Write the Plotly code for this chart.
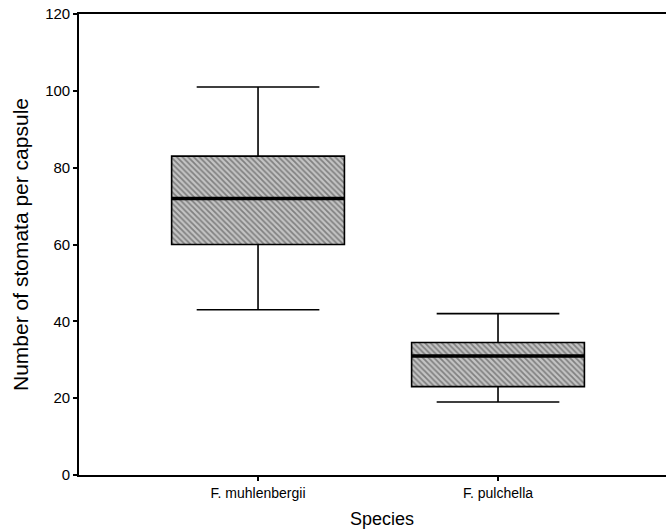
import plotly.graph_objects as go

species = ["F. muhlenbergii", "F. pulchella"]
lower_whisker = [43, 19]
q1 = [60, 23]
median = [72, 31]
q3 = [83, 34.5]
upper_whisker = [101, 42]

y_ticks = [0, 20, 40, 60, 80, 100, 120]

box_w = 0.72

fig = go.Figure()

# hatched box fill
fig.add_trace(go.Bar(
    x=species,
    base=q1,
    y=[b - a for a, b in zip(q1, q3)],
    width=box_w,
    marker=dict(
        color="#c4c4c4",
        line=dict(width=0),
        pattern=dict(shape="\\", fgcolor="#3c3c3c", bgcolor="#c4c4c4", size=4, solidity=0.45),
    ),
    hoverinfo="skip",
    showlegend=False,
))

# box outline + whiskers
fig.add_trace(go.Box(
    x=species,
    q1=q1, median=median, q3=q3,
    lowerfence=lower_whisker, upperfence=upper_whisker,
    width=box_w,
    whiskerwidth=0.71,
    fillcolor="rgba(0,0,0,0)",
    line=dict(color="black", width=1.6),
    showlegend=False,
))

# thick median line
fig.add_trace(go.Box(
    x=species,
    q1=median, median=median, q3=median,
    lowerfence=median, upperfence=median,
    width=box_w,
    whiskerwidth=0,
    fillcolor="rgba(0,0,0,0)",
    line=dict(color="black", width=3.5),
    showlegend=False,
))

fig.update_layout(
    width=666, height=531,
    margin=dict(l=79, r=0, t=14, b=56),
    paper_bgcolor="white",
    plot_bgcolor="white",
    font=dict(family="Liberation Sans, Arial, sans-serif", color="black"),
    boxmode="overlay",
    barmode="overlay",
    xaxis=dict(
        type="category",
        range=[-0.746, 1.7],
        automargin=False,
        showline=True, linecolor="black", linewidth=1.6, mirror=True,
        ticks="outside", ticklen=4, tickwidth=2, tickcolor="black",
        tickfont=dict(size=14),
        showgrid=False, zeroline=False,
    ),
    yaxis=dict(
        range=[0, 120],
        tickvals=y_ticks,
        automargin=False,
        showline=True, linecolor="black", linewidth=1.6,
        ticks="outside", ticklen=4, tickwidth=2, tickcolor="black",
        tickfont=dict(size=15),
        showgrid=False, zeroline=False,
        title=dict(text="Number of stomata per capsule", font=dict(size=21), standoff=11),
    ),
    annotations=[dict(
        text="Species", xref="paper", yref="paper",
        x=(382 - 79) / 587, y=-(519 - 475) / 461, xanchor="center", yanchor="middle",
        showarrow=False, font=dict(size=18),
    )],
)

fig.write_html(
    "out.html",
    config={"displayModeBar": False},
    post_script="document.body.style.margin='0';document.body.style.padding='0';",
)
